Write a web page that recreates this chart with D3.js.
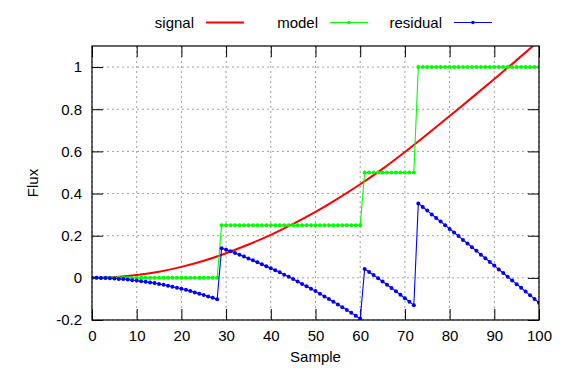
<!DOCTYPE html>
<html>
<head>
<meta charset="utf-8">
<script src="https://cdn.jsdelivr.net/npm/d3@7"></script>
<style>
  body { margin: 0; background: #fff; }
  text { font-family: "Liberation Sans", Arial, sans-serif; font-size: 15px; fill: #000; }
</style>
</head>
<body>
<div id="chart"></div>
<script>
const WIDTH = 572;
const HEIGHT = 382;

const xTicks = [0, 10, 20, 30, 40, 50, 60, 70, 80, 90, 100];
const yTicks = [-0.2, 0, 0.2, 0.4, 0.6, 0.8, 1];
const yTickLabels = ['-0.2', '0', '0.2', '0.4', '0.6', '0.8', '1'];

const legendNames = ['signal', 'model', 'residual'];
const seriesColors = ['#ff0000', '#00ff00', '#0000ff'];

// red curve, read every 5 samples
const signalX = [0, 5, 10, 15, 20, 25, 30, 35, 40, 45, 50, 55, 60, 65, 70, 75, 80, 85, 90, 95, 100];
const signalY = [0, 0.003, 0.013, 0.029, 0.052, 0.081, 0.117, 0.158, 0.204, 0.256, 0.313, 0.376, 0.444,
  0.517, 0.597, 0.681, 0.768, 0.855, 0.943, 1.033, 1.125];

// one value per sample 0..100
const model = [
  0, 0, 0, 0, 0, 0, 0, 0, 0, 0, 0, 0, 0, 0, 0, 0, 0, 0, 0, 0, 0, 0, 0, 0, 0, 0, 0, 0, 0,
  0.25, 0.25, 0.25, 0.25, 0.25, 0.25, 0.25, 0.25, 0.25, 0.25, 0.25, 0.25, 0.25, 0.25, 0.25, 0.25,
  0.25, 0.25, 0.25, 0.25, 0.25, 0.25, 0.25, 0.25, 0.25, 0.25, 0.25, 0.25, 0.25, 0.25, 0.25, 0.25,
  0.5, 0.5, 0.5, 0.5, 0.5, 0.5, 0.5, 0.5, 0.5, 0.5, 0.5, 0.5,
  1, 1, 1, 1, 1, 1, 1, 1, 1, 1, 1, 1, 1, 1, 1, 1, 1, 1, 1, 1, 1, 1, 1, 1, 1, 1, 1, 1
];

const residual = [
  0, -0.000, -0.001, -0.001, -0.002, -0.003, -0.005, -0.006, -0.008, -0.011,
  -0.013, -0.016, -0.019, -0.022, -0.025, -0.029, -0.033, -0.037, -0.042, -0.047,
  -0.052, -0.057, -0.063, -0.069, -0.075, -0.081, -0.088, -0.095, -0.102,
  0.141, 0.133, 0.126, 0.118, 0.109, 0.101, 0.092, 0.083, 0.074, 0.065,
  0.055, 0.046, 0.036, 0.026, 0.015, 0.005, -0.006, -0.017, -0.029, -0.040,
  -0.052, -0.063, -0.076, -0.088, -0.100, -0.113, -0.126, -0.139, -0.152, -0.166,
  -0.180, -0.194,
  0.042, 0.028, 0.013, -0.002, -0.017, -0.033, -0.048, -0.064, -0.080, -0.097,
  -0.113, -0.130,
  0.353, 0.336, 0.319, 0.301, 0.284, 0.267, 0.250, 0.232, 0.215, 0.198,
  0.180, 0.163, 0.145, 0.128, 0.110, 0.093, 0.075, 0.058, 0.040, 0.023,
  0.005, -0.012, -0.030, -0.047, -0.065, -0.083, -0.100, -0.118
];

const margin = {top: 46, right: 33, bottom: 62, left: 92};
const width = WIDTH - margin.left - margin.right;
const height = HEIGHT - margin.top - margin.bottom;

const x = d3.scaleLinear().domain([0, 100]).range([0, width]);
const y = d3.scaleLinear().domain([-0.2, 1.1]).range([height, 0]);

const svg = d3.select('#chart')
  .append('svg')
  .attr('width', WIDTH)
  .attr('height', HEIGHT);

const main = svg.append('g')
  .attr('transform', 'translate(' + margin.left + ',' + margin.top + ')');

// grid
const grid = main.append('g')
  .attr('stroke', '#a0a0a0')
  .attr('stroke-width', 1)
  .attr('stroke-dasharray', '2,3');

grid.selectAll('.gx')
  .data(xTicks)
  .enter().append('line')
  .attr('x1', d => x(d)).attr('x2', d => x(d))
  .attr('y1', 0).attr('y2', height);

grid.selectAll('.gy')
  .data(yTicks)
  .enter().append('line')
  .attr('x1', 0).attr('x2', width)
  .attr('y1', d => y(d)).attr('y2', d => y(d));

// axes, ticks point inward
const TICK = 11;
const yFmt = d => yTickLabels[yTicks.indexOf(d)];

main.append('g')
  .attr('transform', 'translate(0,' + height + ')')
  .call(d3.axisBottom(x).tickValues(xTicks).tickSize(-TICK).tickSizeOuter(0).tickPadding(10).tickFormat(d => d));

main.append('g')
  .call(d3.axisLeft(y).tickValues(yTicks).tickSize(-TICK).tickSizeOuter(0).tickPadding(10).tickFormat(yFmt));

main.append('g')
  .call(d3.axisTop(x).tickValues(xTicks).tickSize(-TICK).tickSizeOuter(0).tickFormat(''));

main.append('g')
  .attr('transform', 'translate(' + width + ',0)')
  .call(d3.axisRight(y).tickValues(yTicks).tickSize(-TICK).tickSizeOuter(0).tickFormat(''));

main.selectAll('.domain').remove();
main.selectAll('.tick line').attr('stroke', '#000').attr('stroke-width', 1);
main.selectAll('.tick text')
  .attr('font-family', '"Liberation Sans", Arial, sans-serif')
  .attr('font-size', 15)
  .attr('fill', '#000');

// series, clipped to the plot box
svg.append('defs').append('clipPath').attr('id', 'plot-clip')
  .append('rect').attr('width', width).attr('height', height);

const plot = main.append('g').attr('clip-path', 'url(#plot-clip)');

const signalLine = d3.line()
  .x((d, i) => x(signalX[i]))
  .y(d => y(d))
  .curve(d3.curveMonotoneX);

plot.append('path')
  .datum(signalY)
  .attr('fill', 'none')
  .attr('stroke', seriesColors[0])
  .attr('stroke-width', 2)
  .attr('d', signalLine);

const sampleLine = d3.line()
  .x((d, i) => x(i))
  .y(d => y(d));

[model, residual].forEach((series, k) => {
  const color = seriesColors[k + 1];
  plot.append('path')
    .datum(series)
    .attr('fill', 'none')
    .attr('stroke', color)
    .attr('stroke-width', 1.1)
    .attr('d', sampleLine);

  plot.append('g')
    .selectAll('circle')
    .data(series)
    .enter().append('circle')
    .attr('cx', (d, i) => x(i))
    .attr('cy', d => y(d))
    .attr('r', 2)
    .attr('fill', color);
});

// border
main.append('rect')
  .attr('width', width)
  .attr('height', height)
  .attr('fill', 'none')
  .attr('stroke', '#000')
  .attr('stroke-width', 1.2);

// axis titles
svg.append('text')
  .attr('x', margin.left + width / 2)
  .attr('y', 362)
  .attr('text-anchor', 'middle')
  .text('Sample');

svg.append('text')
  .attr('transform', 'translate(38,' + (margin.top + height / 2) + ') rotate(-90)')
  .attr('text-anchor', 'middle')
  .text('Flux');

// legend
const legend = svg.append('g');
legendNames.forEach((name, i) => {
  const right = 194 + i * 124;
  const ly = 22.5;
  legend.append('text')
    .attr('x', right)
    .attr('y', 28)
    .attr('text-anchor', 'end')
    .text(name);
  legend.append('line')
    .attr('x1', right + 12).attr('x2', right + 50)
    .attr('y1', ly).attr('y2', ly)
    .attr('stroke', seriesColors[i])
    .attr('stroke-width', i === 0 ? 2 : 1);
  if (i > 0) {
    legend.append('circle')
      .attr('cx', right + 31).attr('cy', ly)
      .attr('r', 1.8)
      .attr('fill', seriesColors[i]);
  }
});
</script>
</body>
</html>
